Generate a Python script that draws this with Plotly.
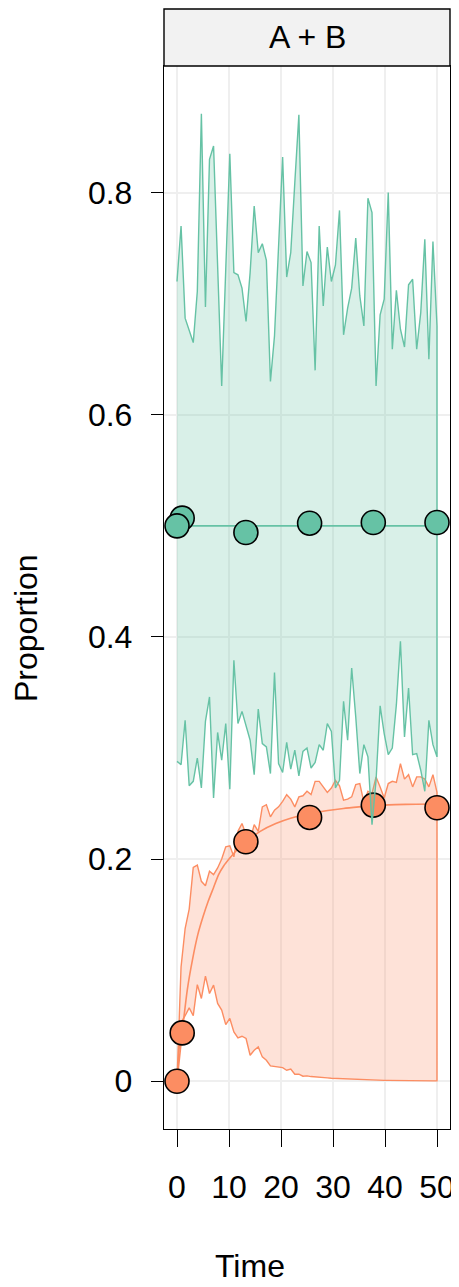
import numpy as np
import plotly.graph_objects as go

# ---- data ----
time_grid = np.linspace(0, 50, 65).tolist()

green_upper = [0.720, 0.770, 0.687, 0.675, 0.665, 0.711, 0.871, 0.697, 0.830, 0.842,
               0.734, 0.626, 0.731, 0.835, 0.728, 0.726, 0.714, 0.684, 0.728, 0.788,
               0.746, 0.754, 0.739, 0.630, 0.671, 0.752, 0.832, 0.724, 0.746, 0.809,
               0.870, 0.716, 0.747, 0.737, 0.640, 0.770, 0.698, 0.751, 0.720, 0.735,
               0.784, 0.672, 0.696, 0.714, 0.759, 0.707, 0.680, 0.795, 0.782, 0.626,
               0.690, 0.704, 0.800, 0.659, 0.712, 0.677, 0.661, 0.717, 0.722, 0.659,
               0.692, 0.758, 0.650, 0.756, 0.680]
green_lower = [0.288, 0.285, 0.325, 0.266, 0.270, 0.291, 0.264, 0.324, 0.346, 0.255,
               0.314, 0.289, 0.322, 0.263, 0.379, 0.322, 0.333, 0.321, 0.307, 0.276,
               0.335, 0.304, 0.301, 0.277, 0.368, 0.286, 0.278, 0.305, 0.281, 0.298,
               0.275, 0.297, 0.300, 0.282, 0.287, 0.303, 0.298, 0.322, 0.315, 0.264,
               0.271, 0.342, 0.307, 0.372, 0.328, 0.277, 0.303, 0.292, 0.231, 0.271,
               0.338, 0.313, 0.294, 0.300, 0.339, 0.396, 0.310, 0.354, 0.294, 0.295,
               0.280, 0.261, 0.325, 0.303, 0.292]
orange_upper = [0.000, 0.103, 0.1375, 0.155, 0.1925, 0.1946, 0.180, 0.176, 0.189, 0.186,
                0.192, 0.200, 0.211, 0.212, 0.202, 0.225, 0.232, 0.222, 0.217, 0.231,
                0.225, 0.247, 0.249, 0.238, 0.244, 0.247, 0.252, 0.258, 0.254, 0.247,
                0.256, 0.257, 0.261, 0.258, 0.270, 0.270, 0.265, 0.260, 0.264, 0.271,
                0.266, 0.253, 0.254, 0.256, 0.267, 0.268, 0.251, 0.261, 0.259, 0.274,
                0.265, 0.255, 0.268, 0.270, 0.269, 0.286, 0.272, 0.276, 0.265, 0.274,
                0.274, 0.272, 0.265, 0.276, 0.260]
orange_lower = [0.000, 0.053, 0.059, 0.066, 0.059, 0.087, 0.0745, 0.0946, 0.079, 0.0865,
                0.070, 0.064, 0.051, 0.0565, 0.0444, 0.039, 0.0405, 0.0385, 0.0234, 0.0279,
                0.0309, 0.0219, 0.0189, 0.0138, 0.0138, 0.0129, 0.0123, 0.0099, 0.011, 0.0063,
                0.0063, 0.0045, 0.0048, 0.0042, 0.0038, 0.0035, 0.0032, 0.0030, 0.0027, 0.0025,
                0.0022, 0.0020, 0.0018, 0.0017, 0.0015, 0.0014, 0.0013, 0.0012, 0.0011, 0.0010,
                0.0009, 0.0008, 0.0008, 0.0007, 0.0007, 0.0006, 0.0006, 0.0005, 0.0005, 0.0005,
                0.0004, 0.0004, 0.0004, 0.0003, 0.0003]

green_model_t = [0, 50]
green_model_v = [0.500, 0.500]
orange_model_t = [0, 1, 2, 3, 4, 5, 6, 7, 8, 9, 10, 11, 12, 13.25, 16, 19, 22, 25.5,
                  29, 32, 35, 38, 42, 46, 50]
orange_model_v = [0.0, 0.044, 0.083, 0.110, 0.132, 0.148, 0.162, 0.174, 0.186, 0.194,
                  0.200, 0.2055, 0.2105, 0.2156, 0.225, 0.232, 0.237, 0.241, 0.2437,
                  0.2456, 0.247, 0.2482, 0.249, 0.2494, 0.2496]

obs_t = [0, 1, 13.25, 25.5, 37.75, 50]
green_obs = [0.500, 0.507, 0.494, 0.5024, 0.503, 0.503]
orange_obs = [0.0, 0.0435, 0.2156, 0.2375, 0.2486, 0.2462]

panel_title = "A + B"
x_title = "Time"
y_title = "Proportion"
x_ticks = [0, 10, 20, 30, 40, 50]
y_ticks = [0, 0.2, 0.4, 0.6, 0.8]
y_tick_text = ["0", "0.2", "0.4", "0.6", "0.8"]

GREEN = "#66C2A5"
ORANGE = "#FC8D62"
GREEN_FILL = "rgba(102,194,165,0.25)"
ORANGE_FILL = "rgba(252,141,98,0.25)"

fig = go.Figure()


def add_species(upper, lower, mt, mv, ov, col, fill):
    fig.add_trace(go.Scatter(
        x=time_grid + time_grid[::-1], y=upper + lower[::-1],
        mode="lines", fill="toself", fillcolor=fill,
        line=dict(color=col, width=1.4), hoverinfo="skip", showlegend=False))
    fig.add_trace(go.Scatter(
        x=mt, y=mv, mode="lines", line=dict(color=col, width=1.6, shape="spline", smoothing=0.6),
        showlegend=False))
    fig.add_trace(go.Scatter(
        x=obs_t[::-1], y=ov[::-1], mode="markers",
        marker=dict(size=24, color=col, line=dict(color="black", width=1.6)),
        showlegend=False))


add_species(orange_upper, orange_lower, orange_model_t, orange_model_v, orange_obs, ORANGE, ORANGE_FILL)
add_species(green_upper, green_lower, green_model_t, green_model_v, green_obs, GREEN, GREEN_FILL)

# page body adds an 8px margin; lay out in reference pixels shifted by it,
# keeping the right panel border inside the visible area
OFF = 8
W, H = 459 - OFF, 1287 - OFF
L, R, T, B = 164 - OFF, 450 - OFF, 66 - OFF, 1129 - OFF
pw, ph = R - L, B - T

FONT = dict(family="Liberation Sans, Arial, sans-serif", size=32, color="black")

fig.update_layout(
    width=W, height=H, autosize=False,
    margin=dict(l=L, r=W - R, t=T, b=H - B, pad=0, autoexpand=False),
    paper_bgcolor="white", plot_bgcolor="white",
    font=FONT,
    xaxis=dict(range=[-2.5, 52.5], tickvals=x_ticks, ticks="outside", ticklen=17,
               tickwidth=1.4, tickcolor="black", showline=True, mirror=True,
               linecolor="black", linewidth=1.4, showgrid=True, gridcolor="#EFEFEF",
               gridwidth=1.5, zeroline=False, tickfont=FONT, ticklabelstandoff=12,
               ticklabeloverflow="allow", automargin=False),
    yaxis=dict(range=[-0.043, 0.914], tickvals=y_ticks, ticktext=y_tick_text,
               ticks="outside", ticklen=12, tickwidth=1.4, tickcolor="black",
               showline=True, mirror=True, linecolor="black", linewidth=1.4,
               showgrid=True, gridcolor="#EFEFEF", gridwidth=1.5, zeroline=False,
               tickfont=FONT, ticklabelstandoff=12, ticklabeloverflow="allow",
               automargin=False),
    shapes=[dict(type="rect", xref="paper", yref="paper", x0=0, x1=1,
                 y0=1, y1=1 + 57 / ph, fillcolor="#F2F2F2",
                 line=dict(color="black", width=1.4))],
    annotations=[
        dict(text=panel_title, xref="paper", yref="paper", x=0.5, y=1 + 29 / ph,
             xanchor="center", yanchor="middle", showarrow=False, font=FONT),
        dict(text=y_title, xref="paper", yref="paper", x=(26 - OFF - L) / pw,
             y=(B - (628 - OFF)) / ph, xanchor="center", yanchor="middle",
             textangle=-90, showarrow=False, font=FONT),
        dict(text=x_title, xref="paper", yref="paper", x=(250 - OFF - L) / pw,
             y=(B - (1266 - OFF)) / ph, xanchor="center", yanchor="middle",
             showarrow=False, font=FONT),
    ],
)

fig.write_html("out.html")
